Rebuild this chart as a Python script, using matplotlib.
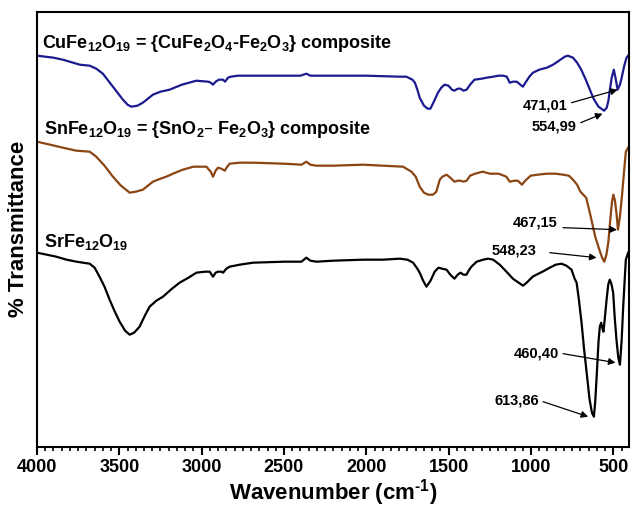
#!/usr/bin/env python3
"""
FTIR spectra of the three ferrite samples
"""

import matplotlib
matplotlib.use('Agg')
import matplotlib.pyplot as plt
from matplotlib.ticker import MultipleLocator

# --- data (wavenumber cm-1, transmittance a.u.) ---
cu_wn = [4000, 3900, 3843, 3740, 3680, 3640, 3600, 3539, 3478, 3450, 3427, 3390, 3357,
         3296, 3250, 3195, 3120, 3032, 2960, 2945, 2931, 2915, 2895, 2870, 2858, 2840,
         2823, 2780, 2600, 2400, 2364, 2340, 2200, 2000, 1800, 1757, 1720, 1705, 1690,
         1676, 1650, 1628, 1611, 1590, 1565, 1545, 1525, 1501, 1480, 1465, 1445, 1428,
         1410, 1391, 1370, 1343, 1300, 1269, 1230, 1196, 1170, 1147, 1129, 1110, 1086,
         1065, 1049, 1030, 1010, 988, 950, 904, 866, 830, 795, 776, 745, 720, 695, 670,
         645, 620, 590, 556, 540, 530, 520, 510, 497, 487, 474, 460, 452, 435, 420, 410]
cu_t = [391, 389, 387, 382, 381, 378, 373, 360, 347, 342, 340, 341, 344,
        352, 355, 357, 362, 366, 365, 364, 362, 365, 367, 367, 365, 369,
        370, 371, 371, 371, 373, 371, 371, 371, 370, 370, 367, 364, 357,
        349, 341, 338, 338, 345, 354, 359, 362, 361, 357, 356, 358, 358,
        356, 357, 362, 367, 368, 369, 370, 371, 371, 370, 364, 365, 365,
        362, 360, 365, 370, 374, 377, 379, 382, 386, 390, 391, 389, 384, 377, 368,
        358, 348, 340, 336, 339, 346, 358, 369, 377, 369, 357, 362, 367, 380, 389, 391]

sn_wn = [4000, 3920, 3843, 3761, 3680, 3640, 3590, 3539, 3490, 3437, 3400, 3357, 3296,
         3250, 3215, 3160, 3114, 3050, 2971, 2945, 2931, 2915, 2901, 2880, 2860, 2845,
         2830, 2769, 2688, 2500, 2394, 2364, 2340, 2303, 2200, 2020, 1900, 1777, 1726,
         1700, 1676, 1650, 1625, 1595, 1575, 1554, 1538, 1513, 1490, 1465, 1445, 1428,
         1410, 1391, 1370, 1340, 1293, 1250, 1196, 1150, 1129, 1100, 1080, 1055, 1035,
         1002, 960, 904, 850, 806, 770, 745, 720, 700, 665, 640, 610, 585, 568, 555,
         542, 530, 518, 508, 500, 490, 480, 472, 460, 448, 435, 424, 410]
sn_t = [305, 302, 299, 296, 295, 290, 281, 270, 261, 254, 255, 257, 265,
        268, 270, 274, 277, 280, 280, 275, 270, 276, 279, 278, 276, 280,
        283, 284, 284, 283, 282, 285, 282, 281, 281, 282, 281, 280, 275,
        270, 260, 254, 252, 252, 255, 267, 270, 272, 269, 265, 266, 266,
        265, 266, 271, 273, 275, 273, 273, 270, 265, 266, 266, 262, 266,
        271, 272, 273, 273, 272, 271, 267, 262, 255, 249, 232, 210, 197, 189, 185,
        192, 205, 228, 245, 252, 246, 232, 217, 230, 250, 275, 295, 299]

sr_wn = [4000, 3940, 3883, 3820, 3761, 3680, 3650, 3620, 3590, 3559, 3530, 3498, 3465,
         3437, 3410, 3377, 3345, 3316, 3275, 3235, 3180, 3134, 3080, 3032, 2980, 2951,
         2931, 2915, 2901, 2880, 2870, 2850, 2830, 2769, 2688, 2500, 2394, 2364, 2340,
         2303, 2200, 2020, 1900, 1797, 1750, 1716, 1690, 1676, 1655, 1635, 1610, 1585,
         1562, 1540, 1513, 1490, 1465, 1445, 1428, 1410, 1392, 1375, 1362, 1330, 1291,
         1260, 1230, 1190, 1149, 1110, 1075, 1048, 1020, 990, 967, 930, 886, 850, 815,
         785, 754, 735, 723, 710, 693, 678, 662, 645, 630, 618, 610, 600, 590, 582,
         574, 566, 560, 552, 541, 531, 522, 512, 501, 492, 481, 470, 460, 450, 440,
         430, 424, 410]
sr_t = [194, 192, 190, 187, 185, 183, 179, 170, 160, 147, 136, 125, 116,
        112, 114, 120, 131, 140, 146, 150, 158, 164, 169, 174, 175, 175,
        170, 174, 175, 175, 174, 178, 180, 182, 184, 185, 185, 189, 186,
        185, 186, 187, 187, 188, 187, 184, 178, 174, 166, 160, 166, 175,
        179, 178, 177, 172, 168, 172, 174, 172, 172, 177, 180, 185, 187,
        188, 187, 182, 175, 168, 164, 161, 165, 170, 172, 175, 179, 182, 183,
        181, 177, 168, 164, 148, 124, 98, 74, 48, 34, 30, 45, 74, 105, 120,
        124, 118, 115, 128, 147, 162, 167, 163, 154, 130, 107, 89, 82, 105, 140,
        170, 187, 194]

names = [r'CuFe$_{12}$O$_{19}$ = {CuFe$_2$O$_4$-Fe$_2$O$_3$} composite',
         r'SnFe$_{12}$O$_{19}$ = {SnO$_2$– Fe$_2$O$_3$} composite',
         r'SrFe$_{12}$O$_{19}$']
colors = ['#1b1b8f', '#8b4513', '#000000']

peak_labels = ['471,01', '554,99', '467,15', '548,23', '460,40', '613,86']


def create_plot():
    plt.rcParams['font.family'] = ['Liberation Sans', 'DejaVu Sans']
    plt.rcParams['font.weight'] = 'bold'
    plt.rcParams['mathtext.default'] = 'regular'

    fig = plt.figure(figsize=(6.31, 5.08), dpi=100)
    ax = fig.add_axes([0.0586, 0.1207, 0.9382, 0.8563])

    for wn, t, c in zip([cu_wn, sn_wn, sr_wn], [cu_t, sn_t, sr_t], colors):
        ax.plot(wn, t, color=c, linewidth=1.6)

    ax.set_xlim(4000, 405)
    ax.set_ylim(0, 435)

    # sample names
    ax.text(3968, 399, names[0], fontsize=13, fontweight='bold', va='baseline')
    ax.text(3960, 313, names[1], fontsize=13, fontweight='bold', va='baseline')
    ax.text(3955, 200, names[2], fontsize=13, fontweight='bold', va='baseline')

    # peak annotations: label position, arrow tail, arrow head
    txt_pos = [(777, 337), (722, 316), (837, 220), (965, 192), (831, 89), (953, 42)]
    tails = [(754, 344), (698, 324), (805, 219), (886, 194), (805, 93), (927, 45)]
    heads = [(474, 357), (566, 333), (478, 217), (602, 189), (487, 84), (653, 30)]
    for lab, p, tl, hd in zip(peak_labels, txt_pos, tails, heads):
        ax.text(p[0], p[1], lab, fontsize=10.5, fontweight='bold', ha='right', va='baseline')
        ax.annotate('', xy=hd, xytext=tl,
                    arrowprops=dict(arrowstyle='-|>', color='k', lw=0.9,
                                    mutation_scale=10, shrinkA=0, shrinkB=0))

    ax.set_xlabel('Wavenumber (cm$^{\u2010 1}$)', fontsize=16, fontweight='bold', labelpad=1)
    ax.set_ylabel('% Transmittance', fontsize=16, fontweight='bold', labelpad=6)

    ax.xaxis.set_major_locator(MultipleLocator(500))
    ax.xaxis.set_minor_locator(MultipleLocator(50))
    ax.tick_params(axis='x', which='major', direction='out', length=6, width=1.5,
                   labelsize=13, pad=3)
    ax.tick_params(axis='x', which='minor', direction='out', length=3, width=1.2)
    ax.tick_params(axis='x', top=False)
    ax.set_yticks([])
    for lab in ax.get_xticklabels():
        lab.set_fontweight('bold')
    for s in ax.spines.values():
        s.set_linewidth(1.5)

    fig.savefig('out.png', dpi=100)
    plt.close(fig)


if __name__ == '__main__':
    create_plot()
